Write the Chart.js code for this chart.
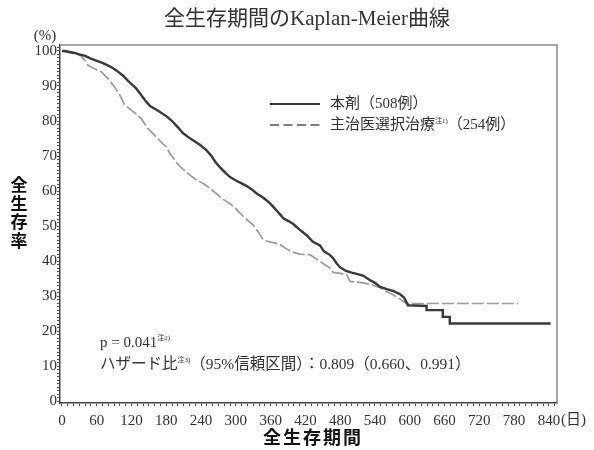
<!DOCTYPE html>
<html lang="ja">
<head>
<meta charset="utf-8">
<title>全生存期間のKaplan-Meier曲線</title>
<script src="https://cdn.jsdelivr.net/npm/chart.js@4.4.1/dist/chart.umd.min.js"></script>
<style>
  html, body { margin: 0; padding: 0; background: #fff; }
  #wrap { width: 594px; height: 450px; }
</style>
</head>
<body>
<div id="wrap"><canvas id="kmChart" width="594" height="450"></canvas></div>
<script>
// values (days / % surviving)
const drugDays = [0, 5, 20, 30, 40, 50, 60, 70, 85, 95, 105, 112, 120, 128, 135, 143, 152, 165, 180, 190,
  200, 209, 218, 226, 238, 249, 258, 265, 272, 282, 290, 300, 310, 318, 328, 336, 348, 359, 370, 382,
  390, 399, 410, 422, 433, 445, 452, 462, 468, 474, 480, 490, 500, 510, 520, 531, 540, 548, 560, 571,
  583, 590, 597, 629, 629, 657, 657, 669, 669, 843];
const drugSurv = [100, 100, 99.5, 99, 98.6, 97.8, 97.2, 96.6, 95.4, 94.3, 93, 91.8, 90.5, 89.3, 87.8, 86, 84.3, 83, 81.4, 80,
  78.2, 76.5, 75.4, 74.5, 73.2, 71.7, 70, 68.2, 66.9, 65.2, 64, 63, 62.2, 61.5, 60.4, 59.3, 58, 56.5, 54.5, 52.2,
  51.5, 50.6, 49, 47.4, 45.5, 44.5, 42.8, 41.8, 40.8, 39.3, 38.2, 37.2, 36.7, 36.3, 35.8, 34.6, 33.8, 32.7, 32, 31.5,
  30.6, 29.6, 27.4, 27.2, 26, 26, 24.1, 24.1, 22.2, 22.2];

const tpcDays = [0, 10, 25, 33, 40, 45, 55, 68, 79, 88, 97, 103, 108, 119, 128, 137, 148, 160, 171, 180,
  186, 198, 207, 215, 225, 232, 245, 255, 265, 272, 282, 290, 300, 307, 318, 330, 340, 347, 356, 364,
  376, 387, 398, 410, 428, 439, 450, 462, 468, 480, 491, 497, 510, 520, 535, 548, 560, 571, 582, 594, 787];
const tpcSurv = [100, 99.6, 99.2, 98.6, 97.2, 95.9, 95, 94, 92.2, 90.3, 88.3, 86.4, 84.6, 83.2, 82, 80.6, 77.9, 75.9, 74, 72.6,
  70.8, 68, 66.5, 65.4, 64, 63.2, 62, 60.8, 59.5, 58.4, 57.2, 56.4, 55, 53.7, 52, 50.3, 48, 46.2, 45.6, 45.3,
  44.8, 43.5, 42.6, 42, 41.8, 40.6, 39.4, 38, 36.8, 36.5, 36.2, 34.2, 34, 33.8, 33.2, 32.5, 31.3, 30.4, 29.3, 27.9, 27.9];

const xTickLabels = [0, 60, 120, 180, 240, 300, 360, 420, 480, 540, 600, 660, 720, 780, 840];
const yTickLabels = [0, 10, 20, 30, 40, 50, 60, 70, 80, 90, 100];

const seriesNames = ['本剤（508例）', '主治医選択治療'];

const SERIF = '"Liberation Serif", "DejaVu Serif", "Noto Sans CJK JP", serif';
const MIXED = '"Liberation Serif", "Noto Sans CJK JP", serif';
const GOTHIC = '"Noto Sans CJK JP", sans-serif';

function toPoints(days, surv) {
  return days.map((d, i) => ({ x: d, y: surv[i] }));
}

// minor tick marks: every 10 days / every 1 %
function minorTicks(from, to, step) {
  const out = [];
  for (let v = from; v <= to; v += step) out.push({ value: v });
  return out;
}

// draws pieces of text one after another, some of them as small superscripts
function drawRuns(ctx, x, y, runs) {
  let cx = x;
  runs.forEach(r => {
    ctx.font = (r.size || 15) + 'px ' + MIXED;
    ctx.fillText(r.t, cx, y + (r.dy || 0));
    cx += ctx.measureText(r.t).width;
  });
}

const extras = {
  id: 'extras',
  afterDraw(chart) {
    const ctx = chart.ctx;
    const a = chart.chartArea;
    ctx.save();

    // top and right frame
    ctx.strokeStyle = '#8c8c8c';
    ctx.lineWidth = 1.6;
    ctx.beginPath();
    ctx.moveTo(a.left, a.top);
    ctx.lineTo(a.right, a.top);
    ctx.lineTo(a.right, a.bottom);
    ctx.stroke();

    ctx.fillStyle = '#333';
    ctx.textBaseline = 'middle';

    // title
    ctx.textAlign = 'center';
    ctx.font = '21px ' + MIXED;
    ctx.fillText('全生存期間のKaplan-Meier曲線', 307, 19);

    ctx.font = '15px ' + MIXED;
    ctx.fillText('(%)', 45, 36);

    // y title, stacked characters
    ctx.font = 'bold 17px ' + GOTHIC;
    ctx.fillStyle = '#111';
    ['全', '生', '存', '率'].forEach((c, i) => ctx.fillText(c, 19, 185 + i * 18.5));

    // x title
    ctx.font = 'bold 18px ' + GOTHIC;
    ctx.letterSpacing = '2px';
    ctx.fillText('全生存期間', 313, 437);
    ctx.letterSpacing = '0px';

    ctx.fillStyle = '#333';
    ctx.textAlign = 'left';
    ctx.font = '15px ' + MIXED;
    ctx.fillText('(日)', 561, 420);

    // legend
    ctx.strokeStyle = '#333';
    ctx.lineWidth = 2.2;
    ctx.beginPath();
    ctx.moveTo(270, 104);
    ctx.lineTo(320, 104);
    ctx.stroke();
    ctx.strokeStyle = '#555';
    ctx.lineWidth = 1.3;
    ctx.setLineDash([9, 4.5]);
    ctx.beginPath();
    ctx.moveTo(270, 125);
    ctx.lineTo(320, 125);
    ctx.stroke();
    ctx.setLineDash([]);

    drawRuns(ctx, 330, 104, [{ t: seriesNames[0] }]);
    drawRuns(ctx, 330, 125, [{ t: seriesNames[1] }, { t: '注1)', size: 7, dy: -4 }, { t: '（254例）' }]);

    // statistics
    drawRuns(ctx, 100, 343, [{ t: 'p = 0.041' }, { t: '注2)', size: 7, dy: -5 }]);
    drawRuns(ctx, 100, 365, [{ t: 'ハザード比', size: 15.5 }, { t: '注3)', size: 7, dy: -5 },
      { t: '（95%信頼区間）：0.809（0.660、0.991）', size: 15.5 }]);

    ctx.restore();
  }
};

new Chart(document.getElementById('kmChart'), {
  type: 'line',
  data: {
    datasets: [
      {
        label: seriesNames[0],
        data: toPoints(drugDays, drugSurv),
        borderColor: '#3a3a3a',
        borderWidth: 2.4,
        tension: 0,
        pointRadius: 0
      },
      {
        label: seriesNames[1],
        data: toPoints(tpcDays, tpcSurv),
        borderColor: '#9c9c9c',
        borderWidth: 1.7,
        borderDash: [12, 3],
        tension: 0,
        pointRadius: 0
      }
    ]
  },
  options: {
    responsive: false,
    animation: false,
    layout: { padding: { left: 0, top: 45, right: 37, bottom: 0 } },
    plugins: {
      legend: { display: false },
      tooltip: { enabled: false }
    },
    scales: {
      x: {
        type: 'linear',
        min: -3.4,
        max: 854,
        afterFit: s => { s.height = 47; },
        afterBuildTicks: s => { s.ticks = minorTicks(0, 850, 10); },
        border: { display: true, color: '#444', width: 1.5 },
        grid: { drawOnChartArea: false, drawTicks: true, tickLength: 3, color: '#555' },
        ticks: {
          autoSkip: false,
          maxRotation: 0,
          padding: 6,
          color: '#333',
          font: { family: SERIF, size: 15 },
          callback: v => xTickLabels.includes(v) ? String(v) : ''
        }
      },
      y: {
        min: -0.5,
        max: 101.7,
        afterFit: s => { s.width = 60; },
        afterBuildTicks: s => { s.ticks = minorTicks(0, 101, 1); },
        border: { display: true, color: '#444', width: 1.5 },
        grid: { drawOnChartArea: false, drawTicks: true, tickLength: 3, color: '#555' },
        ticks: {
          autoSkip: false,
          padding: 0,
          color: '#333',
          font: { family: SERIF, size: 15 },
          callback: v => yTickLabels.includes(v) ? String(v) : ''
        }
      }
    }
  },
  plugins: [extras]
});
</script>
</body>
</html>
